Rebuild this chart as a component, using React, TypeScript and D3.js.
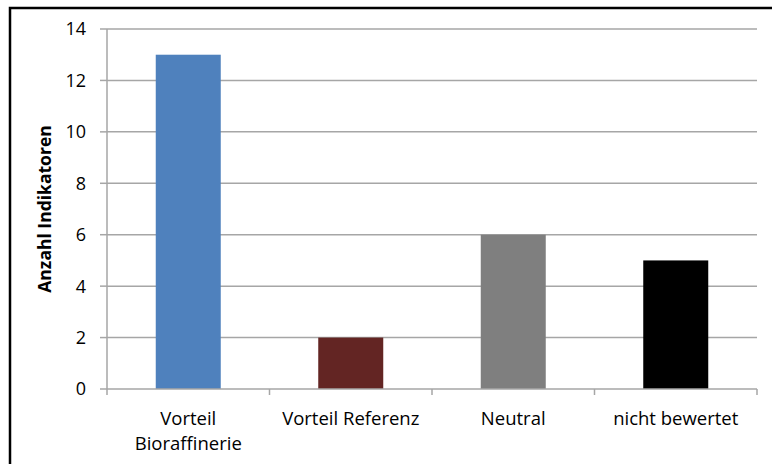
import React from "react";
import * as d3 from "d3";

const categories = ["Vorteil Bioraffinerie", "Vorteil Referenz", "Neutral", "nicht bewertet"];
const categoryLines = [["Vorteil", "Bioraffinerie"], ["Vorteil Referenz"], ["Neutral"], ["nicht bewertet"]];
const values = [13, 2, 6, 5];
const colors = ["#4F81BD", "#632523", "#7F7F7F", "#000000"];
const yTicks = [0, 2, 4, 6, 8, 10, 12, 14];
const yLabel = "Anzahl Indikatoren";

const W = 772, H = 464;
const left = 107, right = 757, top = 29, bottom = 389;
const font = "'Open Sans', 'Liberation Sans', sans-serif";

export default function App() {
  const x = d3.scaleBand<string>().domain(categories).range([left, right]).paddingInner(0.6).paddingOuter(0.3);
  const xb = d3.scaleBand<string>().domain(categories).range([left, right]);
  const y = d3.scaleLinear().domain([0, 14]).range([bottom, top]);
  const grid = "#A6A6A6";
  return (
    <svg width={W} height={H} style={{ position: "absolute", left: 0, top: 0, background: "#fff" }}>
      <rect x={10} y={8} width={W + 10} height={H + 10} fill="#fff" stroke="#000" strokeWidth={2.5} />
      {yTicks.map((t) => (
        <g key={t}>
          {t > 0 && <line x1={left} x2={right} y1={y(t)} y2={y(t)} stroke={grid} strokeWidth={1.5} />}
          <line x1={left - 7} x2={left} y1={y(t)} y2={y(t)} stroke={grid} strokeWidth={1.5} />
          <text x={86} y={y(t)} dy="0.36em" textAnchor="end" fontFamily={font} fontSize={18} fill="#000">{t}</text>
        </g>
      ))}
      {categories.map((c, i) => (
        <rect key={c} x={x(c)} y={y(values[i])} width={x.bandwidth()} height={y(0) - y(values[i])} fill={colors[i]} />
      ))}
      <line x1={left} x2={left} y1={top} y2={bottom} stroke={grid} strokeWidth={1.5} />
      <line x1={left} x2={right} y1={bottom} y2={bottom} stroke={grid} strokeWidth={1.5} />
      {[...categories.map((c) => xb(c) as number), right].map((bx, i) => (
        <line key={i} x1={bx} x2={bx} y1={bottom} y2={bottom + 6} stroke={grid} strokeWidth={1.5} />
      ))}
      {categories.map((c, i) => (
        <text key={c} x={(xb(c) as number) + xb.bandwidth() / 2} y={425} textAnchor="middle" fontFamily={font} fontSize={18.5} fill="#000">
          {categoryLines[i].map((l, j) => (
            <tspan key={j} x={(xb(c) as number) + xb.bandwidth() / 2} dy={j === 0 ? 0 : 25}>{l}</tspan>
          ))}
        </text>
      ))}
      <text transform={`translate(51,${(top + bottom) / 2}) rotate(-90)`} textAnchor="middle" fontFamily={font} fontSize={17.5} fontWeight="bold" fill="#000">{yLabel}</text>
    </svg>
  );
}
